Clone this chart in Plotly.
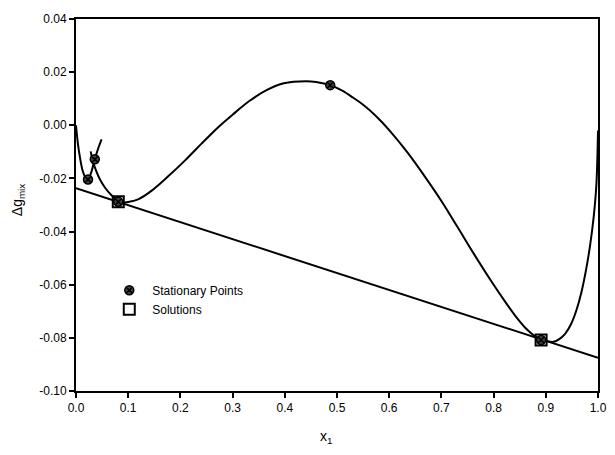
import plotly.graph_objects as go

# Main Δg_mix curve (left-hand short branch and main branch)
branch_a_x = [0.0, 0.004, 0.0075, 0.0126, 0.0189, 0.023, 0.029, 0.036, 0.042, 0.049]
branch_a_y = [0.0, -0.0075, -0.012, -0.017, -0.0199, -0.0204, -0.0178, -0.0128, -0.009, -0.0053]

main_x = [0.028, 0.032, 0.037, 0.045, 0.056, 0.068, 0.08, 0.092, 0.102, 0.12, 0.145, 0.175,
          0.209, 0.24, 0.272, 0.30, 0.334, 0.365, 0.398, 0.441, 0.46, 0.487, 0.51, 0.53,
          0.55, 0.574, 0.60, 0.636, 0.67, 0.70, 0.73, 0.762, 0.795, 0.825, 0.845, 0.862,
          0.878, 0.891, 0.905, 0.915, 0.925, 0.937, 0.948, 0.958, 0.968, 0.977, 0.985,
          0.992, 0.997, 1.0]
main_y = [-0.0098, -0.0133, -0.0163, -0.0200, -0.0236, -0.0263, -0.0282, -0.0290, -0.0288,
          -0.0278, -0.0246, -0.0195, -0.0132, -0.0070, -0.0008, 0.0040, 0.0094, 0.0132, 0.0158,
          0.0166, 0.0163, 0.0151, 0.0130, 0.0105, 0.0077, 0.0036, -0.0018, -0.0105, -0.0198,
          -0.0285, -0.0380, -0.0483, -0.0585, -0.0672, -0.0726, -0.0765, -0.0792, -0.0806,
          -0.0814, -0.0815, -0.0806, -0.0785, -0.0750, -0.0700, -0.0630, -0.0545, -0.0450,
          -0.0340, -0.0220, -0.0020]

# Common tangent line
tangent_x = [0.0, 1.0]
tangent_y = [-0.0237, -0.0875]

# Stationary points and solutions
stat_x = [0.023, 0.036, 0.081, 0.487, 0.891]
stat_y = [-0.0204, -0.0128, -0.0288, 0.0151, -0.0808]
sol_x = [0.081, 0.891]
sol_y = [-0.0288, -0.0808]

x_ticks = [0.0, 0.1, 0.2, 0.3, 0.4, 0.5, 0.6, 0.7, 0.8, 0.9, 1.0]
x_tick_labels = ["0.0", "0.1", "0.2", "0.3", "0.4", "0.5", "0.6", "0.7", "0.8", "0.9", "1.0"]
y_ticks = [-0.10, -0.08, -0.06, -0.04, -0.02, 0.00, 0.02, 0.04]
y_tick_labels = ["-0.10", "-0.08", "-0.06", "-0.04", "-0.02", "0.00", "0.02", "0.04"]

font = "Liberation Sans, Arial, sans-serif"
fig = go.Figure()
fig.add_trace(go.Scatter(x=branch_a_x, y=branch_a_y, mode="lines", line=dict(color="black", width=2, shape="spline"),
                         showlegend=False, hoverinfo="skip"))
fig.add_trace(go.Scatter(x=main_x, y=main_y, mode="lines", line=dict(color="black", width=2, shape="spline"),
                         showlegend=False, hoverinfo="skip"))
fig.add_trace(go.Scatter(x=tangent_x, y=tangent_y, mode="lines", line=dict(color="black", width=2),
                         showlegend=False, hoverinfo="skip"))
fig.add_trace(go.Scatter(x=stat_x, y=stat_y, mode="markers", name="Stationary Points",
                         marker=dict(symbol="circle-x", size=9, color="#444444",
                                     line=dict(color="black", width=1.5))))
fig.add_trace(go.Scatter(x=sol_x, y=sol_y, mode="markers", name="Solutions",
                         marker=dict(symbol="square-open", size=11, color="black",
                                     line=dict(color="black", width=2))))

fig.update_layout(
    width=615, height=455,
    margin=dict(l=76, r=8, t=19, b=64),
    paper_bgcolor="white", plot_bgcolor="white",
    font=dict(family=font, size=12, color="black"),
    legend=dict(x=0.058, y=0.31, xanchor="left", yanchor="top", bgcolor="rgba(0,0,0,0)",
                font=dict(size=12), tracegroupgap=0, itemwidth=36),
    annotations=[
        dict(text="x<sub>1</sub>", xref="paper", yref="paper", x=0.478, y=-0.124,
             xanchor="center", yanchor="middle", showarrow=False, font=dict(size=14)),
        dict(text="Δg<sub>mix</sub>", xref="paper", yref="paper", x=-0.111, y=0.513,
             xanchor="center", yanchor="middle", showarrow=False, textangle=-90,
             font=dict(size=14)),
    ],
)
fig.update_xaxes(range=[0, 1], tickvals=x_ticks, ticktext=x_tick_labels, ticks="outside", ticklen=5,
                 tickwidth=2, tickcolor="black", showline=True, linecolor="black", linewidth=2,
                 mirror=True, showgrid=False, zeroline=False)
fig.update_yaxes(range=[-0.10, 0.04], tickvals=y_ticks, ticktext=y_tick_labels, ticks="outside", ticklen=5,
                 tickwidth=2, tickcolor="black", showline=True, linecolor="black", linewidth=2,
                 mirror=True, showgrid=False, zeroline=False)

fig.write_html("out.html")
